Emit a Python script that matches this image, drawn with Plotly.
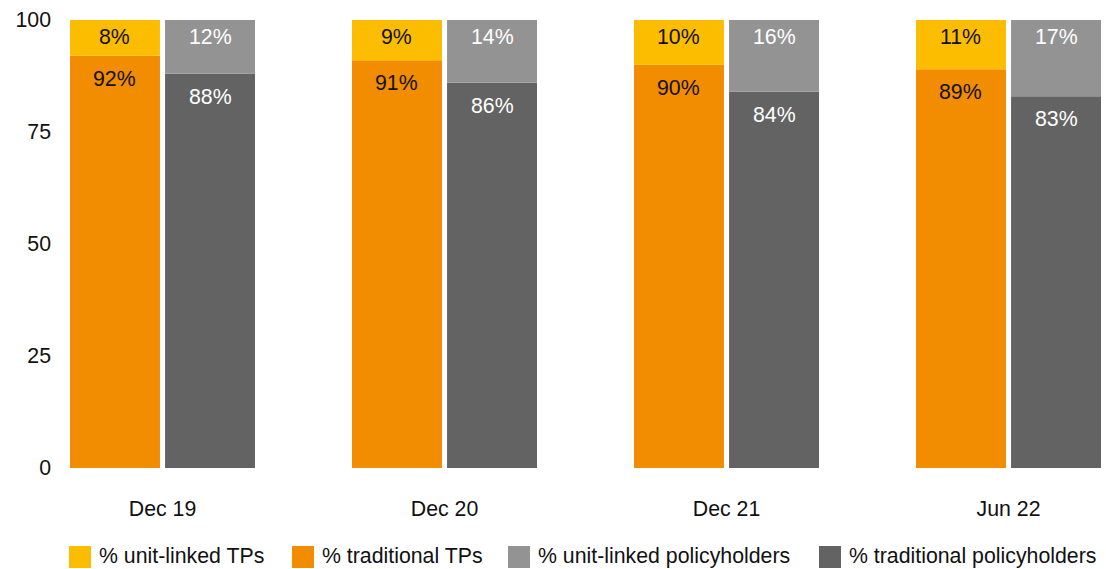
import plotly.graph_objects as go

# Reporting dates
periods = ["Dec 19", "Dec 20", "Dec 21", "Jun 22"]

# Share of technical provisions (%)
unit_linked_tps = [8, 9, 10, 11]
traditional_tps = [92, 91, 90, 89]

# Share of policyholders (%)
unit_linked_ph = [12, 14, 16, 17]
traditional_ph = [88, 86, 84, 83]

legend_labels = ["% unit-linked TPs", "% traditional TPs",
                 "% unit-linked policyholders", "% traditional policyholders"]

YELLOW = "#FCBC00"
ORANGE = "#F28C00"
LIGHT_GREY = "#939393"
DARK_GREY = "#636363"
FONT = "Liberation Sans, Arial, sans-serif"
FS = 21.3

BAR_W = 0.319
OFF_TP = -0.328   # left edge of the TP bar, relative to the category centre
OFF_PH = 0.009    # left edge of the policyholder bar

x = list(range(len(periods)))

fig = go.Figure()


def add_stack(bottom, top, off, c_bottom, c_top):
    fig.add_trace(go.Bar(x=x, y=bottom, width=BAR_W, offset=off,
                         marker=dict(color=c_bottom, line=dict(width=0)),
                         showlegend=False, hoverinfo="skip"))
    fig.add_trace(go.Bar(x=x, y=top, base=bottom, width=BAR_W, offset=off,
                         marker=dict(color=c_top, line=dict(width=0)),
                         showlegend=False, hoverinfo="skip"))


add_stack(traditional_tps, unit_linked_tps, OFF_TP, ORANGE, YELLOW)
add_stack(traditional_ph, unit_linked_ph, OFF_PH, DARK_GREY, LIGHT_GREY)

annotations = []


def label_stack(bottom, top, off, col_bottom, col_top):
    cx = off + BAR_W / 2
    for i in x:
        total = bottom[i] + top[i]
        annotations.append(dict(x=i + cx, y=total, xref="x", yref="y",
                                text=f"{top[i]}%", showarrow=False,
                                yanchor="middle", yshift=-17,
                                font=dict(family=FONT, size=FS, color=col_top)))
        annotations.append(dict(x=i + cx, y=bottom[i], xref="x", yref="y",
                                text=f"{bottom[i]}%", showarrow=False,
                                yanchor="middle", yshift=-23,
                                font=dict(family=FONT, size=FS, color=col_bottom)))


label_stack(traditional_tps, unit_linked_tps, OFF_TP, "#111111", "#111111")
label_stack(traditional_ph, unit_linked_ph, OFF_PH, "#ffffff", "#ffffff")

# Legend drawn as swatches and captions below the plot
L, R, T, B = 60, 5, 20, 101
W = 1106 - L - R
H = 569 - T - B


def px_x(p):
    return (p - L) / W


def px_y(p):
    return (569 - B - p) / H


legend_colors = [YELLOW, ORANGE, LIGHT_GREY, DARK_GREY]
swatch_left = [69, 292, 508, 819]
text_left = [97, 320, 536, 847]
shapes = []
for lab, col, sx, tx in zip(legend_labels, legend_colors, swatch_left, text_left):
    shapes.append(dict(type="rect", xref="paper", yref="paper",
                       x0=px_x(sx), x1=px_x(sx + 22),
                       y0=px_y(568), y1=px_y(546),
                       fillcolor=col, line=dict(width=0)))
    annotations.append(dict(x=px_x(tx), y=px_y(556), xref="paper", yref="paper",
                            xanchor="left", yanchor="middle", showarrow=False,
                            text=lab, font=dict(family=FONT, size=FS, color="#111111")))

fig.update_layout(
    width=1106, height=569,
    margin=dict(l=L, r=R, t=T, b=B, pad=0),
    paper_bgcolor="white", plot_bgcolor="white",
    barmode="overlay",
    showlegend=False,
    font=dict(family=FONT, size=FS, color="#111111"),
    xaxis=dict(range=[-0.3635, -0.3635 + W / 282], tickvals=x, ticktext=periods,
               showgrid=False, zeroline=False, showline=False, ticks="",
               ticklabelstandoff=26, tickfont=dict(size=FS)),
    yaxis=dict(range=[0, 100], tickvals=[0, 25, 50, 75, 100],
               showgrid=False, zeroline=False, showline=False, ticks="",
               ticklabelstandoff=8, tickfont=dict(size=FS)),
    annotations=annotations,
    shapes=shapes,
)

fig.write_html("out.html")
